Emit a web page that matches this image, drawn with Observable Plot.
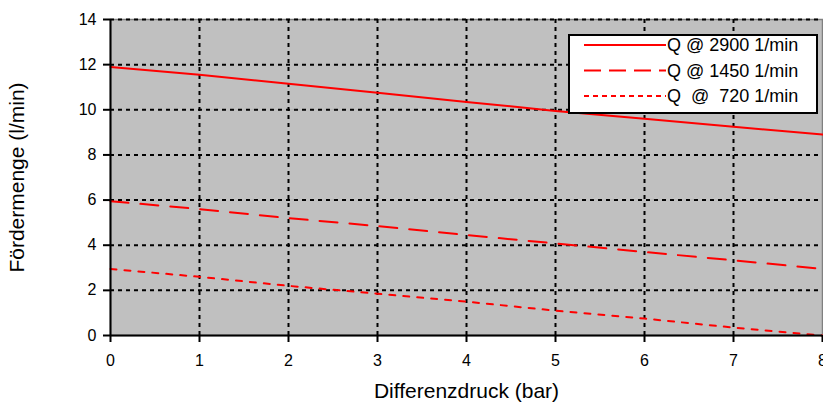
<!DOCTYPE html>
<html><head><meta charset="utf-8">
<script src="https://cdn.jsdelivr.net/npm/d3@7"></script>
<script src="https://cdn.jsdelivr.net/npm/@observablehq/plot@0.6"></script>
<style>
body{margin:0;background:#fff;font-family:"Liberation Sans",Arial,sans-serif;}
#wrap{position:relative;width:823px;height:410px;}
#legend{position:absolute;left:568px;top:34px;}
</style></head><body>
<div id="wrap"><div id="chart"></div><div id="legend"></div></div>
<script>
const pressure = [0, 1, 2, 3, 4, 5, 6, 7, 8];
const q2900 = [11.9, 11.55, 11.15, 10.75, 10.35, 9.95, 9.6, 9.25, 8.9];
const q1450 = [5.95, 5.6, 5.2, 4.85, 4.45, 4.08, 3.7, 3.33, 2.95];
const q720  = [2.95, 2.6, 2.2, 1.85, 1.5, 1.1, 0.75, 0.35, 0.0];
const seriesNames = ["Q @ 2900 1/min", "Q @ 1450 1/min", "Q  @  720 1/min"];
const xTicks = [0, 1, 2, 3, 4, 5, 6, 7, 8];
const yTicks = [0, 2, 4, 6, 8, 10, 12, 14];
const xLabel = "Differenzdruck (bar)";
const yLabel = "Fördermenge (l/min)";

const dashes = [null, "18,12", "6,8"];
const legendDashes = [null, "17,8", "5,4"];
const allSeries = [q2900, q1450, q720];
const rows = [];
allSeries.forEach((vals, s) => vals.forEach((v, i) => rows.push({x: pressure[i], y: v, s})));

const lineMarks = allSeries.map((vals, s) =>
  Plot.line(rows.filter(d => d.s === s), {x: "x", y: "y", stroke: "#ff0000", strokeWidth: 2, strokeDasharray: dashes[s]})
);

const chart = Plot.plot({
  width: 823, height: 410,
  marginLeft: 110, marginRight: 1, marginTop: 19, marginBottom: 75,
  style: {fontFamily: '"Liberation Sans", Arial, sans-serif', background: "#fff", overflow: "hidden"},
  x: {domain: [0, 8]},
  y: {domain: [0, 14]},
  marks: [
    Plot.frame({fill: "#c0c0c0", stroke: "#808080", strokeWidth: 1.5}),
    Plot.ruleX(xTicks.filter(t => t > 0 && t < 8), {stroke: "#000", strokeWidth: 2, strokeDasharray: "4,4"}),
    Plot.ruleY(yTicks.filter(t => t > 0), {stroke: "#000", strokeWidth: 2, strokeDasharray: "4,4"}),
    ...lineMarks,
    Plot.ruleX([0], {stroke: "#000", strokeWidth: 2}),
    Plot.ruleY([0], {stroke: "#000", strokeWidth: 2}),
    Plot.axisX({ticks: xTicks, tickSize: 7, tickPadding: 12, fontSize: 16, label: null, stroke: "#000", strokeWidth: 2, fill: "#000"}),
    Plot.axisY({ticks: yTicks, tickSize: 7, tickPadding: 7, fontSize: 16, label: null, stroke: "#000", strokeWidth: 2, fill: "#000"}),
    Plot.text([xLabel], {frameAnchor: "bottom", dy: 62, fontSize: 21, fill: "#000", textAnchor: "middle"}),
    Plot.text([yLabel], {frameAnchor: "left", dx: -93, rotate: -90, fontSize: 21, fill: "#000", textAnchor: "middle"})
  ]
});
document.getElementById("chart").appendChild(chart);

// legend
const lw = 250, lh = 80;
const svg = d3.select("#legend").append("svg").attr("width", lw).attr("height", lh)
  .style("font-family", '"Liberation Sans", Arial, sans-serif');
svg.append("rect").attr("x", 1).attr("y", 1).attr("width", lw - 2).attr("height", lh - 2)
  .attr("fill", "#fff").attr("stroke", "#000").attr("stroke-width", 2);
seriesNames.forEach((name, i) => {
  const y = 11 + i * 25.5;
  svg.append("line").attr("x1", 16).attr("x2", 98).attr("y1", y).attr("y2", y)
    .attr("stroke", "#ff0000").attr("stroke-width", 2)
    .attr("stroke-dasharray", legendDashes[i]);
  svg.append("text").attr("x", 99).attr("y", y).attr("dy", "0.35em")
    .attr("font-size", 18).attr("fill", "#000").attr("xml:space", "preserve")
    .style("white-space", "pre")
    .text(name);
});
</script>
</body></html>
